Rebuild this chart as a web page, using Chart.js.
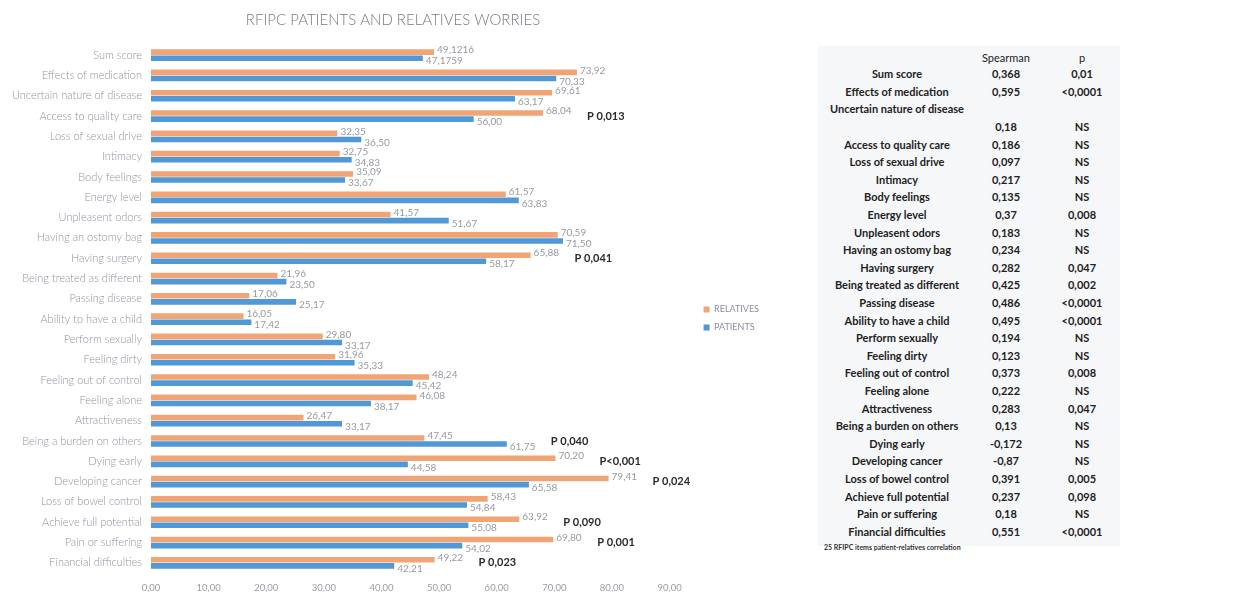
<!DOCTYPE html>
<html>
<head>
<meta charset="utf-8">
<script src="https://cdn.jsdelivr.net/npm/chart.js@4.4.1/dist/chart.umd.min.js"></script>
<style>
  html, body { margin: 0; padding: 0; background: #fff; }
  body { width: 1245px; height: 597px; position: relative; overflow: hidden; }
  #chartBox { position: absolute; left: 0; top: 0; width: 800px; height: 597px; }
  #corr {
    position: absolute; left: 818px; top: 46px; width: 302px; height: 500px;
    padding-top: 4px; box-sizing: border-box;
    background: #f6f7f9;
    font-family: Lato, "Open Sans", sans-serif; font-weight: 700; font-size: 11px; color: #222;
  }
  #corr table { border-collapse: collapse; table-layout: fixed; width: 310px; }
  #corr td { height: 17.6px; padding: 0; text-align: center; white-space: nowrap; }
  #corr td.name { width: 158px; }
  #corr td.sp { width: 60px; }
  #corr td.pv { width: 92px; }
  #corr tr.head td { font-weight: 400; height: 15px; }
  #foot {
    position: absolute; left: 824px; top: 543px;
    font-family: Lato, sans-serif; font-weight: 700; font-size: 7px; color: #333;
  }
</style>
</head>
<body>
<div id="chartBox"><canvas id="worries"></canvas></div>
<div id="corr"><table id="corrTable"></table></div>
<div id="foot">25 RFIPC items patient-relatives correlation</div>

<script>
// --- data ---
const items = [
  'Sum score', 'Effects of medication', 'Uncertain nature of disease', 'Access to quality care',
  'Loss of sexual drive', 'Intimacy', 'Body feelings', 'Energy level', 'Unpleasent odors',
  'Having an ostomy bag', 'Having surgery', 'Being treated as different', 'Passing disease',
  'Ability to have a child', 'Perform sexually', 'Feeling dirty', 'Feeling out of control',
  'Feeling alone', 'Attractiveness', 'Being a burden on others', 'Dying early',
  'Developing cancer', 'Loss of bowel control', 'Achieve full potential', 'Pain or suffering',
  'Financial difficulties'
];

const relatives = [
  49.1216, 73.92, 69.61, 68.04, 32.35, 32.75, 35.09, 61.57, 41.57, 70.59, 65.88, 21.96, 17.06,
  16.05, 29.80, 31.96, 48.24, 46.08, 26.47, 47.45, 70.20, 79.41, 58.43, 63.92, 69.80, 49.22
];

const patients = [
  47.1759, 70.33, 63.17, 56.00, 36.50, 34.83, 33.67, 63.83, 51.67, 71.50, 58.17, 23.50, 25.17,
  17.42, 33.17, 35.33, 45.42, 38.17, 33.17, 61.75, 44.58, 65.58, 54.84, 55.08, 54.02, 42.21
];

// significance notes next to some bars
const pNotes = [
  null, null, null, 'P 0,013', null, null, null, null, null, null, 'P 0,041', null, null,
  null, null, null, null, null, null, 'P 0,040', 'P<0,001', 'P 0,024', null, 'P 0,090', 'P 0,001',
  'P 0,023'
];

const xTicks = [0, 10, 20, 30, 40, 50, 60, 70, 80, 90];

// correlation table (Spearman)
const corrNames = [
  'Sum score', 'Effects of medication', 'Uncertain nature of disease', '', 'Access to quality care',
  'Loss of sexual drive', 'Intimacy', 'Body feelings', 'Energy level', 'Unpleasent odors',
  'Having an ostomy bag', 'Having surgery', 'Being treated as different', 'Passing disease',
  'Ability to have a child', 'Perform sexually', 'Feeling dirty', 'Feeling out of control',
  'Feeling alone', 'Attractiveness', 'Being a burden on others', 'Dying early', 'Developing cancer',
  'Loss of bowel control', 'Achieve full potential', 'Pain or suffering', 'Financial difficulties'
];
const spearman = [
  '0,368', '0,595', '', '0,18', '0,186', '0,097', '0,217', '0,135', '0,37', '0,183', '0,234',
  '0,282', '0,425', '0,486', '0,495', '0,194', '0,123', '0,373', '0,222', '0,283', '0,13',
  '-0,172', '-0,87', '0,391', '0,237', '0,18', '0,551'
];
const pValues = [
  '0,01', '<0,0001', '', 'NS', 'NS', 'NS', 'NS', 'NS', '0,008', 'NS', 'NS', '0,047', '0,002',
  '<0,0001', '<0,0001', 'NS', 'NS', '0,008', 'NS', '0,047', 'NS', 'NS', 'NS', '0,005', '0,098',
  'NS', '<0,0001'
];

// --- helpers ---
function fmt(v) {
  const two = Math.abs(v * 100 - Math.round(v * 100)) < 1e-6;
  return (two ? v.toFixed(2) : String(v)).replace('.', ',');
}

// value labels at bar ends + the P notes
const barLabels = {
  id: 'barLabels',
  afterDatasetsDraw(chart) {
    const ctx = chart.ctx;
    ctx.save();
    ctx.textBaseline = 'middle';
    ctx.textAlign = 'left';
    ctx.font = '10px Lato, sans-serif';
    ctx.fillStyle = '#979aa2';
    chart.data.datasets.forEach((ds, di) => {
      const meta = chart.getDatasetMeta(di);
      meta.data.forEach((bar, i) => {
        const dy = di === 0 ? -2 : 3;
        ctx.fillText(fmt(ds.data[i]), bar.x + 3, bar.y + dy);
      });
    });

    const xs = chart.scales.x;
    const ys = chart.scales.y;
    ctx.font = 'bold 11px Lato, sans-serif';
    ctx.fillStyle = '#2b2b2b';
    pNotes.forEach((txt, i) => {
      if (!txt) return;
      const top = Math.max(relatives[i], patients[i]);
      ctx.fillText(txt, xs.getPixelForValue(top) + 44, ys.getPixelForValue(i));
    });
    ctx.restore();
  }
};

// nudge legend and title boxes after layout
const boxNudge = {
  id: 'boxNudge',
  afterLayout(chart) {
    const lg = chart.legend;
    lg.left += 25; lg.right += 25;
    lg.top += 20; lg.bottom += 20;
    const tb = chart.titleBlock;
    tb.left += 21; tb.right += 21;
  }
};

new Chart(document.getElementById('worries'), {
  type: 'bar',
  data: {
    labels: items,
    datasets: [
      { label: 'RELATIVES', data: relatives, backgroundColor: '#f1a475' },
      { label: 'PATIENTS', data: patients, backgroundColor: '#5098d6' }
    ]
  },
  options: {
    indexAxis: 'y',
    responsive: true,
    maintainAspectRatio: false,
    animation: false,
    categoryPercentage: 0.6,
    barPercentage: 0.92,
    layout: { padding: { left: 0, right: 56, top: 0, bottom: 0 } },
    plugins: {
      title: {
        display: true,
        text: 'RFIPC PATIENTS AND RELATIVES WORRIES',
        color: '#767a83',
        font: { family: 'Lato, sans-serif', size: 15, weight: 300 },
        padding: { top: 11, bottom: 16 }
      },
      legend: {
        position: 'right',
        labels: {
          boxWidth: 6,
          boxHeight: 6,
          color: '#8a8fa0',
          font: { family: 'Lato, sans-serif', size: 9 },
          padding: 9
        }
      },
      tooltip: { enabled: false }
    },
    scales: {
      x: {
        min: 0,
        max: 90,
        afterBuildTicks: (axis) => { axis.ticks = xTicks.map(v => ({ value: v })); },
        afterFit: (scale) => { scale.height = 24; },
        grid: { display: false, drawTicks: false },
        border: { display: false },
        ticks: {
          padding: 9,
          color: '#9a9da5',
          font: { family: 'Lato, sans-serif', size: 9.5 },
          callback: (v) => v.toFixed(2).replace('.', ',')
        }
      },
      y: {
        grid: { display: false, drawTicks: false },
        border: { display: false },
        afterFit: (scale) => { scale.width = 151; },
        ticks: {
          padding: 9,
          color: '#8e939e',
          font: { family: 'Lato, sans-serif', size: 11, weight: 300 }
        }
      }
    }
  },
  plugins: [barLabels, boxNudge]
});

// --- correlation table ---
const table = document.getElementById('corrTable');
const head = table.insertRow();
head.className = 'head';
['', 'Spearman', 'p'].forEach((t, k) => {
  const c = head.insertCell();
  c.className = ['name', 'sp', 'pv'][k];
  c.textContent = t;
});
corrNames.forEach((n, i) => {
  const r = table.insertRow();
  [n, spearman[i], pValues[i]].forEach((t, k) => {
    const c = r.insertCell();
    c.className = ['name', 'sp', 'pv'][k];
    c.textContent = t;
  });
});
</script>
</body>
</html>
